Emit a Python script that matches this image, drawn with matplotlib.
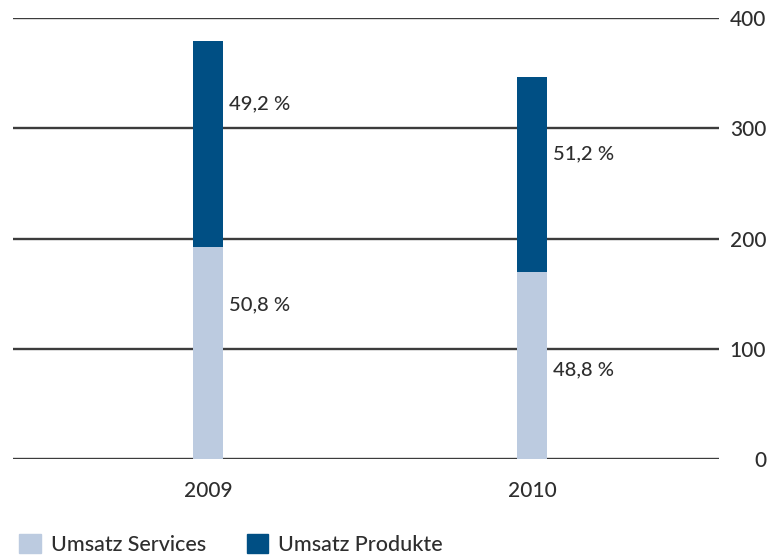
import numpy as np
import matplotlib.pyplot as plt
from matplotlib.patches import Patch

# Umsatz in Mio.
jahre = ["2009", "2010"]
services = np.array([192.5, 169.3])
produkte = np.array([186.5, 177.2])
anteil_services = ["50,8 %", "48,8 %"]
anteil_produkte = ["49,2 %", "51,2 %"]
# Höhe der Beschriftungen (in Achsen-Einheiten)
label_y_services = [140, 81]
label_y_produkte = [322, 277]

hell = "#bccbe0"
dunkel = "#004f84"
grau = "#3c3c3c"
text = "#2e2e2e"

plt.rcParams['font.family'] = ['Lato', 'DejaVu Sans']

fig = plt.figure(figsize=(7.74, 5.57), dpi=100)
ax = fig.add_axes([0.0168, 0.1759, 0.9121, 0.7918])

x = np.arange(len(jahre))
breite = 0.093

# Gitterlinien
for y in [0, 100, 200, 300, 400]:
    ax.axhline(y, color=grau, lw=1.7, zorder=1)

ax.bar(x, services, breite, color=hell, zorder=2)
ax.bar(x, produkte, breite, bottom=services, color=dunkel, zorder=2)

for i in range(len(jahre)):
    ax.text(x[i] + 0.066, label_y_produkte[i], anteil_produkte[i], fontsize=14.5,
            color=text, va="center", ha="left", fontweight="medium")
    ax.text(x[i] + 0.066, label_y_services[i], anteil_services[i], fontsize=14.5,
            color=text, va="center", ha="left", fontweight="medium")

ax.set_xlim(-0.602, 1.577)
ax.set_ylim(0, 400)
ax.set_xticks(x)
ax.set_xticklabels(jahre)
ax.set_yticks([0, 100, 200, 300, 400])
ax.yaxis.tick_right()
ax.tick_params(axis="y", length=0, pad=34, labelsize=15, labelcolor=text)
ax.tick_params(axis="x", length=0, pad=16, labelsize=15, labelcolor=text)
for lbl in ax.get_yticklabels():
    lbl.set_horizontalalignment("right")
    lbl.set_fontweight("medium")
for lbl in ax.get_xticklabels():
    lbl.set_fontweight("medium")
for s in ax.spines.values():
    s.set_visible(False)

handles = [Patch(color=hell, label="Umsatz Services"),
           Patch(color=dunkel, label="Umsatz Produkte")]
fig.legend(handles=handles, loc="lower left", bbox_to_anchor=(0.0, -0.031),
           ncol=2, frameon=False, handlelength=1.0,
           handleheight=1.0, handletextpad=0.45, columnspacing=1.9,
           labelcolor=text, prop={'weight': 'medium', 'size': 15.5})

fig.savefig("out.png", dpi=100)
